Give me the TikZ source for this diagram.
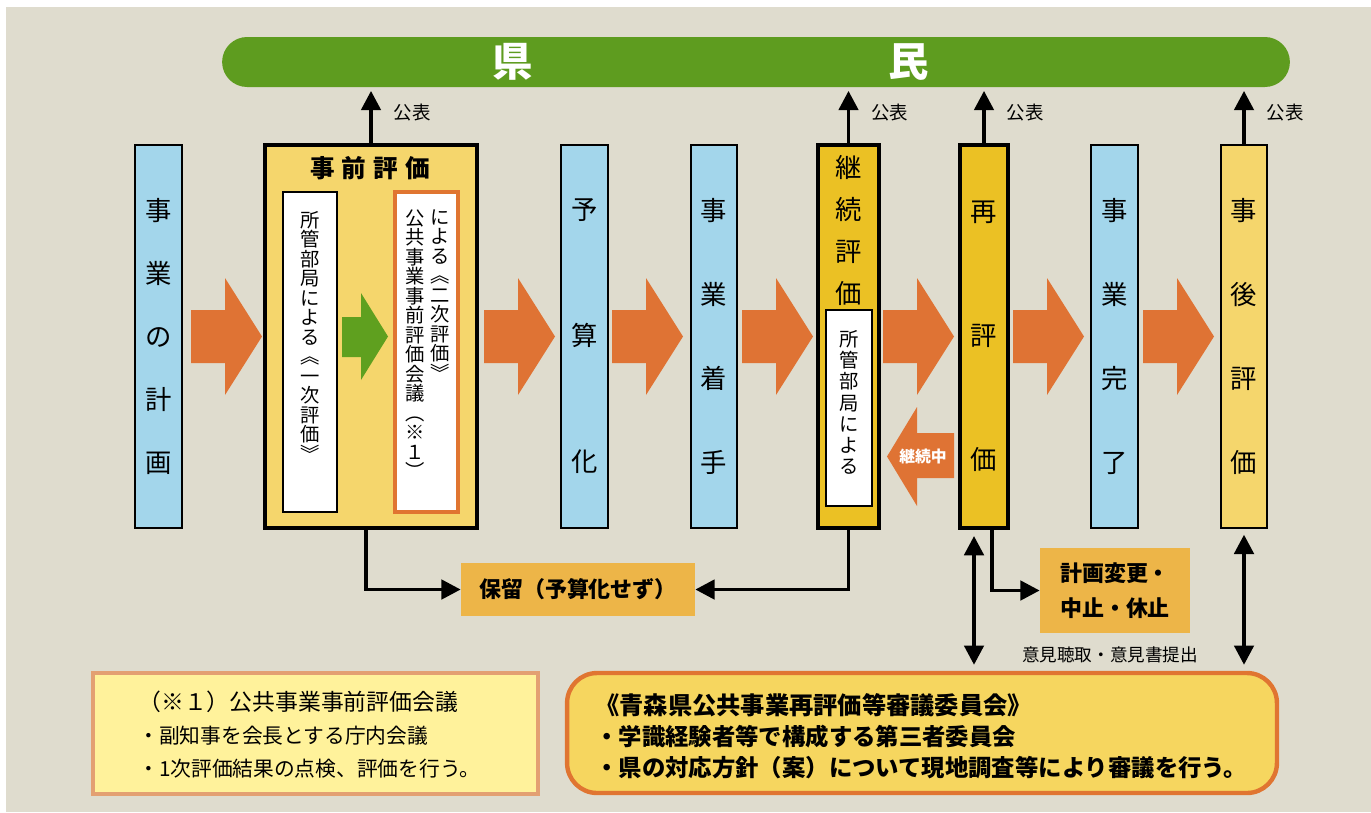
\documentclass[tikz,border=0pt]{standalone}
\usepackage{fontspec}
\setmainfont{Noto Sans CJK JP}
\usetikzlibrary{arrows.meta,positioning}
\lineskiplimit=-100pt
\definecolor{bgbeige}{HTML}{DFDCCE}
\definecolor{ferngreen}{HTML}{5E9C1F}
\definecolor{leafgreen}{HTML}{5FA01F}
\definecolor{skyblue}{HTML}{A3D6EB}
\definecolor{paleyellow}{HTML}{F5D66C}
\definecolor{gold}{HTML}{EBC124}
\definecolor{flowor}{HTML}{DF7334}
\definecolor{holdor}{HTML}{EDB548}
\definecolor{notefill}{HTML}{FFF29B}
\definecolor{noteedge}{HTML}{E3A072}
\definecolor{commfill}{HTML}{F6D65F}
\definecolor{commedge}{HTML}{E07531}

\begin{document}
\begin{tikzpicture}[x=0.02cm, y=-0.02cm, >={Triangle[length=11pt,width=11pt]},
  stage/.style={draw, line width=0.8pt, inner sep=0pt, minimum height=7.66cm, align=center},
  evalbox/.style={draw, line width=2.3pt, inner sep=0pt, minimum height=7.66cm, align=center},
  whitebox/.style={draw, fill=white, line width=0.8pt, inner sep=0pt},
  vtext/.style={inner sep=0pt, align=center, font=\fontsize{11}{11.1}\selectfont},
  flow/.style={fill=flowor},
  pub/.style={line width=2.2pt, ->, shorten >=2pt},
  conn/.style={line width=2.2pt},
  pubtext/.style={font=\fontsize{10.5}{12}\selectfont},
  banner/.style={fill=ferngreen, rounded corners=0.5cm, minimum width=21.36cm, minimum height=1cm},
  bannertext/.style={text=white, font=\fontsize{23}{23}\selectfont\bfseries},
  hold/.style={fill=holdor, inner sep=0pt, font=\fontsize{12.5}{20}\selectfont\bfseries}]

  \useasboundingbox (0,0) rectangle (1371,812);
  \fill[white] (0,0) rectangle (1371,812);
  \fill[bgbeige] (6,7) rectangle (1371,812);

  % banner
  \node[banner] (banner) at (756,62) {};
  \node[bannertext] (ken) at (513,62) {県};
  \node[bannertext] (min) at (909,62) {民};

  % stages
  \node[stage, fill=skyblue, minimum width=0.94cm, font=\fontsize{15}{35.9}\selectfont] (plan) at (158.5,336.5) {事\\業\\の\\計\\画};
  \node[evalbox, fill=paleyellow, minimum width=4.24cm] (pre) at (371,336.5) {};
  \node[stage, fill=skyblue, minimum width=0.94cm, font=\fontsize{15}{71.7}\selectfont] (budget) at (584.5,336.5) {予\\算\\化};
  \node[stage, fill=skyblue, minimum width=0.92cm, font=\fontsize{15}{47.8}\selectfont] (start) at (714,336.5) {事\\業\\着\\手};
  \node[evalbox, fill=gold, minimum width=1.22cm] (cont) at (848.5,336.5) {};
  \node[evalbox, fill=gold, minimum width=0.96cm, font=\fontsize{15}{70.6}\selectfont] (re) at (984,336.5) {再\\評\\価};
  \node[stage, fill=skyblue, minimum width=0.94cm, font=\fontsize{15}{47.8}\selectfont] (done) at (1114.5,336.5) {事\\業\\完\\了};
  \node[stage, fill=paleyellow, minimum width=0.92cm, font=\fontsize{15}{47.8}\selectfont] (post) at (1244,336.5) {事\\後\\評\\価};

  % inside pre evaluation
  \node[font=\fontsize{14}{14}\selectfont\bfseries] (pretitle) at (370,168) {事\kern4pt前\kern4pt評\kern4pt価};
  \node[whitebox, minimum width=1.08cm, minimum height=6.4cm] (first) at (310,352) {};
  \node[vtext, anchor=north] (firsttxt) at (310,211) {所\\管\\部\\局\\に\\よ\\る\\︽\\一\\次\\評\\価\\︾};
  \fill[leafgreen] (342,317) -- (361,317) -- (361,293) -- (388,336.5) -- (361,380) -- (361,357) -- (342,357) -- cycle;
  \node[whitebox, draw=commedge, line width=1.8pt, minimum width=1.26cm, minimum height=6.4cm] (second) at (426.5,352) {};
  \node[vtext, anchor=north] (secondl) at (415,209) {公\\共\\事\\業\\事\\前\\評\\価\\会\\議\\︵\\※\\１\\︶};
  \node[vtext, anchor=north] (secondr) at (440,209) {に\\よ\\る\\︽\\二\\次\\評\\価\\︾};

  % inside continued evaluation
  \node[align=center, inner sep=0pt, font=\fontsize{15}{23.9}\selectfont] (conttitle) at (848.5,230) {継\\続\\評\\価};
  \node[whitebox, minimum width=0.92cm, minimum height=3.92cm] (contin) at (849,408) {};
  \node[vtext, font=\fontsize{11}{12.1}\selectfont] (contintxt) at (849,402.5) {所\\管\\部\\局\\に\\よ\\る};

  % flow arrows
  \foreach \x in {191,484,612,742,883,1013,1143}
    \fill[flow] (\x,310) -- ({\x+34},310) -- ({\x+34},278) -- ({\x+71},336.5) -- ({\x+34},395) -- ({\x+34},363) -- (\x,363) -- cycle;
  \fill[flow] (954,433) -- (917,433) -- (917,407) -- (887,456.5) -- (917,506) -- (917,478) -- (954,478) -- cycle;
  \node[text=white, font=\fontsize{9}{9}\selectfont\bfseries] (going) at (923,456) {継続中};

  % publication
  \draw[pub] (pre.north) -- (pre.north |- banner.south) node[pubtext, pos=0.55, right=0.3cm] {公表};
  \draw[pub] (cont.north) -- (cont.north |- banner.south) node[pubtext, pos=0.55, right=0.3cm] {公表};
  \draw[pub] (re.north) -- (re.north |- banner.south) node[pubtext, pos=0.55, right=0.3cm] {公表};
  \draw[pub] (post.north) -- (post.north |- banner.south) node[pubtext, pos=0.55, right=0.3cm] {公表};

  % outcomes
  \node[hold, minimum width=4.68cm, minimum height=1.06cm] (keep) at (578,589.5) {保留（予算化せず）};
  \node[hold, align=left, minimum width=3cm, minimum height=1.7cm] (change) at (1115,590.5) {計画変更・\\中止・休止};
  \draw[conn, ->] ([xshift=-0.1cm]pre.south) |- (keep.west);
  \draw[conn, ->] (cont.south) |- (keep.east);
  \draw[conn, ->] ([xshift=0.16cm]re.south) |- (change.west);

  % notes
  \node[draw=noteedge, fill=notefill, line width=2pt, minimum width=8.9cm, minimum height=2.42cm] (note) at (315.5,733.5) {};
  \node[anchor=west, align=left, inner sep=0pt, font=\fontsize{11.8}{18.8}\selectfont] (notetxt) at (138,735)
    {{\fontsize{13}{18.8}\selectfont （※１）公共事業事前評価会議}\\ ・副知事を会長とする庁内会議\\ ・1次評価結果の点検、評価を行う。};
  \node[draw=commedge, fill=commfill, line width=2.5pt, rounded corners=0.6cm, minimum width=14.2cm, minimum height=2.4cm] (committee) at (922,733) {};
  \node[anchor=west, align=left, inner sep=0pt, font=\fontsize{13.3}{17.6}\selectfont\bfseries] (committeetxt) at (595,736)
    {{\fontsize{13.8}{17.6}\selectfont 《青森県公共事業再評価等審議委員会》}\\ ・学識経験者等で構成する第三者委員会\\ ・県の対応方針（案）について現地調査等により審議を行う。};

  \draw[conn, <->, shorten <=0.12cm, shorten >=0.12cm] ([xshift=-0.2cm]re.south) -- ([xshift=-0.2cm]re.south |- committee.north);
  \draw[conn, <->, shorten <=0.12cm, shorten >=0.12cm] (post.south) -- (post.south |- committee.north);
  \node[font=\fontsize{10}{10}\selectfont] (opinion) at (1110,655) {意見聴取・意見書提出};
\end{tikzpicture}
\end{document}
